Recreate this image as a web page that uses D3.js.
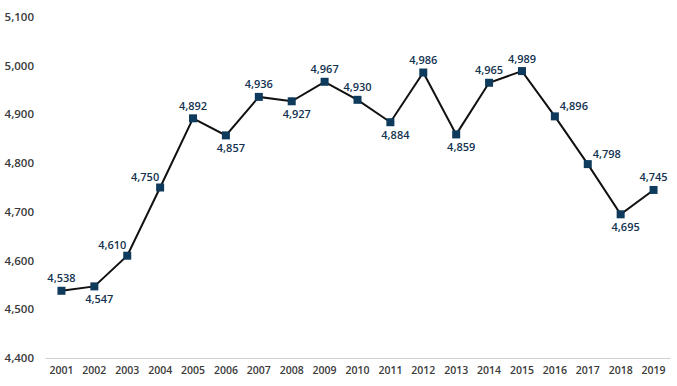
<!DOCTYPE html>
<html>
<head>
<meta charset="utf-8">
<script src="https://cdn.jsdelivr.net/npm/d3@7"></script>
<style>
  body { margin: 0; background: #fff; }
  text { font-family: "Open Sans", sans-serif; }
</style>
</head>
<body>
<div id="chart"></div>
<script>
// data
const years = ["2001","2002","2003","2004","2005","2006","2007","2008","2009","2010",
               "2011","2012","2013","2014","2015","2016","2017","2018","2019"];
const values = [4538, 4547, 4610, 4750, 4892, 4857, 4936, 4927, 4967, 4930,
                4884, 4986, 4859, 4965, 4989, 4896, 4798, 4695, 4745];
// where each value label sits relative to its marker
const labelSide = ["t","b","tl","tl","t","b","t","b","t","t",
                   "b","t","b","t","t","tr","tr","b","t"];
const yTicks = [4400, 4500, 4600, 4700, 4800, 4900, 5000, 5100];

const W = 677, H = 386;
const margin = { top: 17, right: 7, bottom: 28, left: 45 };

const svg = d3.select("#chart").append("svg")
    .attr("width", W)
    .attr("height", H);

const x = d3.scaleBand()
    .domain(years)
    .range([margin.left, W - margin.right])
    .padding(0);

const y = d3.scaleLinear()
    .domain([4400, 5100])
    .range([H - margin.bottom, margin.top]);

// y tick labels (no gridlines in the original)
svg.append("g")
    .selectAll("text")
    .data(yTicks)
    .join("text")
    .attr("x", 34)
    .attr("y", d => y(d))
    .attr("dy", "0.35em")
    .attr("text-anchor", "end")
    .attr("fill", "#3a3a3a")
    .style("font-size", "11.5px")
    .style("font-weight", 600)
    .text(d3.format(","));

// x axis
const xAxis = svg.append("g")
    .attr("transform", `translate(0,${y(4400)})`)
    .call(d3.axisBottom(x).tickSize(0).tickPadding(9));
xAxis.select(".domain").attr("stroke", "#d0d0d0").attr("stroke-width", 1.2);
xAxis.selectAll("text")
    .attr("fill", "#3a3a3a")
    .style("font-family", "'Open Sans', sans-serif")
    .style("font-size", "10.5px")
    .style("font-weight", 600);

const cx = d => x(d) + x.bandwidth() / 2;

// line
const line = d3.line()
    .x((d, i) => cx(years[i]))
    .y(d => y(d));

svg.append("path")
    .datum(values)
    .attr("fill", "none")
    .attr("stroke", "#111")
    .attr("stroke-width", 2)
    .attr("d", line);

// markers
const ms = 8;
svg.append("g")
    .selectAll("rect")
    .data(values)
    .join("rect")
    .attr("x", (d, i) => cx(years[i]) - ms / 2)
    .attr("y", d => y(d) - ms / 2)
    .attr("width", ms)
    .attr("height", ms)
    .attr("fill", "#0e3a5c");

// value labels
const off = {
    t:  { dx: 0,   dy: -13 },
    b:  { dx: 5,   dy: 12 },
    tl: { dx: -15, dy: -11 },
    tr: { dx: 19,  dy: -11 }
};
svg.append("g")
    .selectAll("text")
    .data(values)
    .join("text")
    .attr("x", (d, i) => cx(years[i]) + off[labelSide[i]].dx)
    .attr("y", d => y(d))
    .attr("dy", (d, i) => off[labelSide[i]].dy)
    .attr("text-anchor", "middle")
    .attr("dominant-baseline", "central")
    .attr("fill", "#12324f")
    .style("font-size", "11px")
    .style("font-weight", 600)
    .text(d3.format(","));
</script>
</body>
</html>
